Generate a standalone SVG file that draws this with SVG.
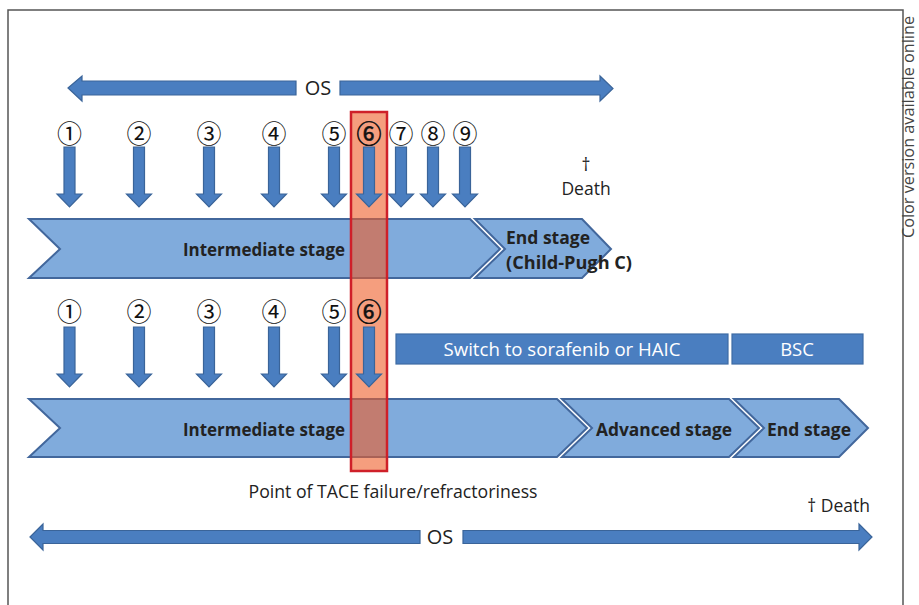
<svg xmlns="http://www.w3.org/2000/svg" xmlns:xlink="http://www.w3.org/1999/xlink" width="919" height="605" viewBox="0 0 919 605">
<style>
.arr{fill:#4A7EC0;stroke:#3A6499;stroke-width:1.2}
.chev{fill:#80ABDC;stroke:#42679C;stroke-width:2}
.box{fill:#4A7EC0;stroke:#3E6CA4;stroke-width:1.2}
.num{font-family:"Noto Sans CJK JP","DejaVu Sans",sans-serif;font-size:25px;fill:#111;text-anchor:middle}
.lbl{font-family:"Open Sans","Noto Sans",sans-serif;font-size:17.5px;fill:#222}
.bold{font-weight:700;font-size:17px}
.wt{font-family:"Open Sans","Noto Sans",sans-serif;font-size:18.5px;fill:#fff;text-anchor:middle}
.os{font-family:"Open Sans","Noto Sans",sans-serif;font-size:20px;fill:#222;text-anchor:middle}
</style>
<defs>
<path id="dn" d="M-5.5 0 H5.5 V47 H12.5 L0 60 L-12.5 47 H-5.5 Z"/>
</defs>
<rect x="8" y="10" width="895" height="620" fill="#fff" stroke="#555" stroke-width="1.5"/>
<text x="914" y="238" transform="rotate(-90 914 238)" font-family="Open Sans, Noto Sans, sans-serif" font-size="15.5" fill="#444" textLength="222" lengthAdjust="spacingAndGlyphs">Color version available online</text>

<g id="stages-row1">
<g id="intermediate1"><path class="chev" d="M29 219 H470 L500 249 L470 278 H29 L60 249 Z"/>
<text class="lbl bold" x="264" y="256" text-anchor="middle" textLength="162" lengthAdjust="spacingAndGlyphs">Intermediate stage</text></g>
<g id="end1"><path class="chev" d="M475 219 H582 L611 249 L582 278 H475 L505 249 Z"/>
<text class="lbl bold" x="506" y="244" textLength="84" lengthAdjust="spacingAndGlyphs">End stage</text>
<text class="lbl bold" x="506" y="269" textLength="126" lengthAdjust="spacingAndGlyphs">(Child-Pugh C)</text></g>
</g>

<g id="stages-row2">
<g id="intermediate2"><path class="chev" d="M29 399 H557 L587 428 L557 457 H29 L60 428 Z"/>
<text class="lbl bold" x="264" y="436" text-anchor="middle" textLength="162" lengthAdjust="spacingAndGlyphs">Intermediate stage</text></g>
<g id="advanced"><path class="chev" d="M562 399 H729 L759 428 L729 457 H562 L592 428 Z"/>
<text class="lbl bold" x="664" y="436" text-anchor="middle" textLength="136" lengthAdjust="spacingAndGlyphs">Advanced stage</text></g>
<g id="end2"><path class="chev" d="M734 399 H839 L868 428 L839 457 H734 L764 428 Z"/>
<text class="lbl bold" x="809" y="436" text-anchor="middle" textLength="84" lengthAdjust="spacingAndGlyphs">End stage</text></g>
</g>

<g id="tace-failure">
<rect x="351" y="112" width="36" height="359" fill="rgb(238,94,40)" fill-opacity="0.6" stroke="#CF2029" stroke-width="2.5"/>
</g>

<g id="treatments">
<g id="switch"><rect class="box" x="396" y="334" width="332" height="30"/>
<text class="wt" x="562" y="356" textLength="237" lengthAdjust="spacingAndGlyphs">Switch to sorafenib or HAIC</text></g>
<g id="bsc"><rect class="box" x="732" y="334" width="131" height="30"/>
<text class="wt" x="797" y="356">BSC</text></g>
</g>

<g id="connectors">
<g id="os-top">
<path class="arr" d="M68 88 L82 76 V81 H296 V95 H82 V101 Z"/>
<path class="arr" d="M340 81 H600 V76 L613 88.5 L600 101 V95 H340 Z"/>
</g>
<g id="os-bottom">
<path class="arr" d="M30 537 L43 524 V530.5 H420 V543.5 H43 V550 Z"/>
<path class="arr" d="M463 530.5 H859 V524 L872 537 L859 550 V543.5 H463 Z"/>
</g>
<g id="tace-row1">
<use href="#dn" class="arr" x="69.5" y="147"/>
<use href="#dn" class="arr" x="139" y="147"/>
<use href="#dn" class="arr" x="209" y="147"/>
<use href="#dn" class="arr" x="274" y="147"/>
<use href="#dn" class="arr" x="334" y="147"/>
<use href="#dn" class="arr" x="369" y="147"/>
<use href="#dn" class="arr" x="401" y="147"/>
<use href="#dn" class="arr" x="433" y="147"/>
<use href="#dn" class="arr" x="465" y="147"/>
</g>
<g id="tace-row2">
<use href="#dn" class="arr" x="69.5" y="327"/>
<use href="#dn" class="arr" x="139" y="327"/>
<use href="#dn" class="arr" x="209" y="327"/>
<use href="#dn" class="arr" x="274" y="327"/>
<use href="#dn" class="arr" x="334" y="327"/>
<use href="#dn" class="arr" x="369" y="327"/>
</g>
</g>

<g id="labels">
<text class="os" x="318" y="95">OS</text>
<text class="os" x="440" y="544">OS</text>
<g class="num">
<text x="69.5" y="143">①</text><text x="139" y="143">②</text><text x="209" y="143">③</text><text x="274" y="143">④</text><text x="334" y="143">⑤</text><text x="369" y="143" stroke="#111" stroke-width="0.6">⑥</text><text x="401" y="143">⑦</text><text x="433" y="143">⑧</text><text x="465" y="143">⑨</text>
<text x="69.5" y="321">①</text><text x="139" y="321">②</text><text x="209" y="321">③</text><text x="274" y="321">④</text><text x="334" y="321">⑤</text><text x="369" y="321" stroke="#111" stroke-width="0.6">⑥</text>
</g>
<text class="lbl" x="586" y="171" text-anchor="middle">†</text>
<text class="lbl" x="586" y="195" text-anchor="middle">Death</text>
<text class="lbl" x="393" y="498" text-anchor="middle" textLength="289" lengthAdjust="spacingAndGlyphs">Point of TACE failure/refractoriness</text>
<text class="lbl" x="870" y="512" text-anchor="end">† Death</text>
</g>
</svg>
